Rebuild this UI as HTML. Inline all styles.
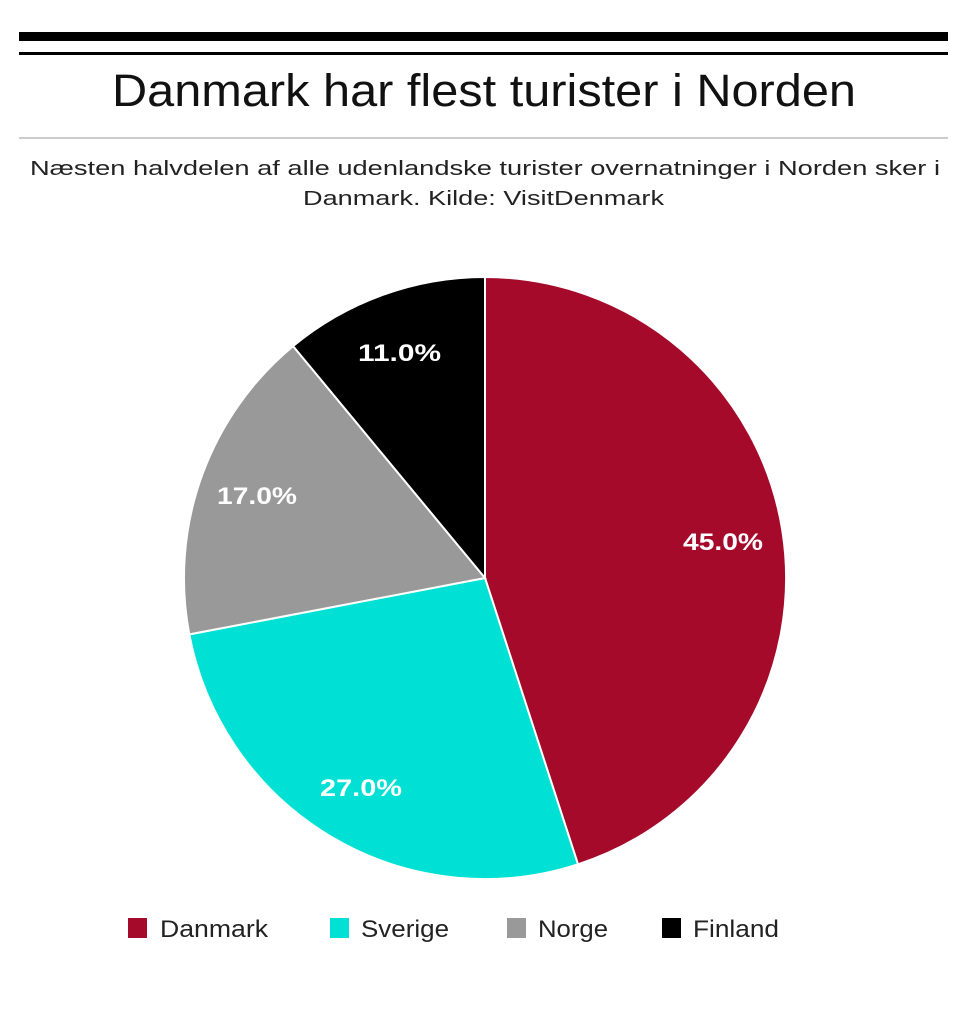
<!DOCTYPE html>
<html><head><meta charset="utf-8"><style>
body{margin:0;background:#fff;width:960px;height:1005px;overflow:hidden;font-family:"Liberation Sans",Arial,sans-serif}
</style></head><body>
<svg width="960" height="1005" xmlns="http://www.w3.org/2000/svg" font-family="Liberation Sans, Arial, sans-serif">
<rect x="19" y="32" width="929" height="9" fill="#000"/>
<rect x="19" y="52" width="929" height="3" fill="#000"/>
<rect x="19" y="137" width="929" height="2" fill="#ccc"/>
<text x="112" y="106" font-size="45" fill="#111" textLength="744" lengthAdjust="spacingAndGlyphs">Danmark har flest turister i Norden</text>
<text x="30" y="175" font-size="20" fill="#222" textLength="910" lengthAdjust="spacingAndGlyphs">Næsten halvdelen af alle udenlandske turister overnatninger i Norden sker i</text>
<text x="303" y="205" font-size="20" fill="#222" textLength="361" lengthAdjust="spacingAndGlyphs">Danmark. Kilde: VisitDenmark</text>
<g stroke="#fff" stroke-width="2">
<path d="M485,578 L485,277 A301,301 0 0 1 578.0,864.3 Z" fill="#a50a2a"/>
<path d="M485,578 L578.0,864.3 A301,301 0 0 1 189.3,634.4 Z" fill="#00e0d4"/>
<path d="M485,578 L189.3,634.4 A301,301 0 0 1 293.1,346.1 Z" fill="#999"/>
<path d="M485,578 L293.1,346.1 A301,301 0 0 1 485,277 Z" fill="#000"/>
</g>
<g font-size="24" font-weight="bold" fill="#fff">
<text x="683" y="550" textLength="80" lengthAdjust="spacingAndGlyphs">45.0%</text>
<text x="320" y="796" textLength="82" lengthAdjust="spacingAndGlyphs">27.0%</text>
<text x="217" y="504" textLength="80" lengthAdjust="spacingAndGlyphs">17.0%</text>
<text x="358" y="361" textLength="83" lengthAdjust="spacingAndGlyphs">11.0%</text>
</g>
<g font-size="24" fill="#222">
<rect x="128" y="918" width="19" height="20" fill="#a50a2a"/><text x="160" y="937" textLength="108" lengthAdjust="spacingAndGlyphs">Danmark</text>
<rect x="330" y="918" width="19" height="20" fill="#00e0d4"/><text x="361" y="937" textLength="88" lengthAdjust="spacingAndGlyphs">Sverige</text>
<rect x="507" y="918" width="19" height="20" fill="#999"/><text x="538" y="937" textLength="70" lengthAdjust="spacingAndGlyphs">Norge</text>
<rect x="662" y="918" width="19" height="20" fill="#000"/><text x="693" y="937" textLength="86" lengthAdjust="spacingAndGlyphs">Finland</text>
</g>
</svg>
</body></html>
